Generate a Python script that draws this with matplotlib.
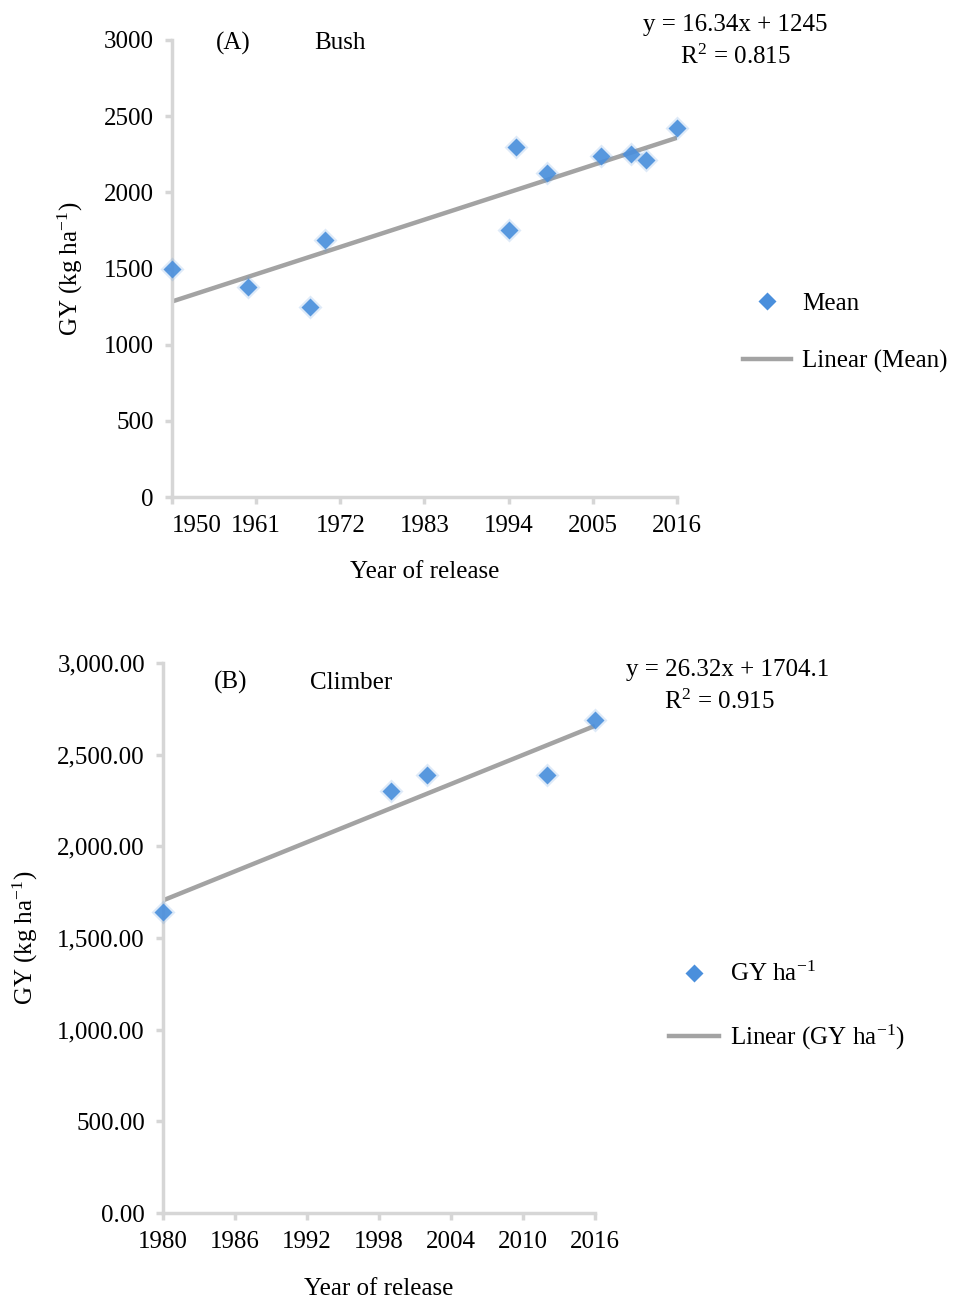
import numpy as np
import matplotlib
matplotlib.use("Agg")
import matplotlib.pyplot as plt
from matplotlib.ticker import FuncFormatter
from matplotlib.lines import Line2D

plt.rcParams['font.family'] = ['Liberation Serif', 'DejaVu Serif']
plt.rcParams['mathtext.fontset'] = 'stix'
plt.rcParams['font.size'] = 18

# (A) bush varieties
bush_year = [1950, 1960, 1968, 1970, 1994, 1995, 1999, 2006, 2010, 2012, 2016]
bush_gy = [1500, 1380, 1250, 1690, 1750, 2300, 2130, 2240, 2250, 2210, 2420]
bush_xticks = [1950, 1961, 1972, 1983, 1994, 2005, 2016]
bush_yticks = [0, 500, 1000, 1500, 2000, 2500, 3000]

# (B) climber varieties
climb_year = [1980, 1999, 2002, 2012, 2016]
climb_gy = [1640, 2300, 2390, 2390, 2690]
climb_xticks = [1980, 1986, 1992, 1998, 2004, 2010, 2016]
climb_yticks = [0, 500, 1000, 1500, 2000, 2500, 3000]

BLUE = '#4a8fdc'
GREY_LINE = '#a3a3a3'
SPINE = '#d6d6d6'
SUP = '$^{\\mathregular{-1}}$'


def style_axis(ax):
    for s in ('top', 'right'):
        ax.spines[s].set_visible(False)
    for s in ('left', 'bottom'):
        ax.spines[s].set_color(SPINE)
        ax.spines[s].set_linewidth(2.5)
    ax.tick_params(direction='out', length=5, width=2.5, color=SPINE,
                   labelsize=18, pad=8)


def draw_panel(ax, years, gy, xticks, yticks):
    coef = np.polyfit(years, gy, 1)
    xs = np.array([xticks[0], xticks[-1]])
    ax.plot(xs, np.polyval(coef, xs), color=GREY_LINE, lw=3.2,
            solid_capstyle='butt', zorder=2)
    ax.plot(years, gy, ls='none', marker='D', ms=12, color=BLUE, alpha=0.18,
            mec='none', clip_on=False, zorder=3)
    ax.plot(years, gy, ls='none', marker='D', ms=9, color=BLUE, alpha=0.9,
            mec='none', clip_on=False, zorder=4)
    ax.set_xlim(xticks[0], xticks[-1])
    ax.set_ylim(yticks[0], yticks[-1])
    ax.set_xticks(xticks)
    ax.set_yticks(yticks)
    style_axis(ax)


fig = plt.figure(figsize=(9.55, 13.06), dpi=100)

ax1 = fig.add_axes([0.180, 0.6194, 0.529, 0.350])
draw_panel(ax1, bush_year, bush_gy, bush_xticks, bush_yticks)
ax1.get_xticklabels()[0].set_ha('left')
ax1.set_xlabel('Year of release', fontsize=18)
ax1.xaxis.set_label_coords(0.5, -0.14)
ax1.set_ylabel('GY (kg ha' + SUP + ')', fontsize=18)
ax1.yaxis.set_label_coords(-0.172, 0.5)
ax1.text(0.121, 0.993, '(A)', transform=ax1.transAxes, ha='center', va='center')
ax1.text(0.333, 0.993, 'Bush', transform=ax1.transAxes, ha='center', va='center')
ax1.text(1.115, 1.033, 'y = 16.34x + 1245', transform=ax1.transAxes,
         ha='center', va='center')
ax1.text(1.115, 0.963, 'R$^{\\mathregular{2}}$ = 0.815', transform=ax1.transAxes,
         ha='center', va='center')

h_pt = Line2D([], [], ls='none', marker='D', ms=9, color=BLUE, mec='none')
h_ln = Line2D([], [], color=GREY_LINE, lw=3.2)
ax1.legend([h_pt, h_ln], ['Mean', 'Linear (Mean)'], loc='center left',
           bbox_to_anchor=(0.765, 0.745), bbox_transform=fig.transFigure,
           frameon=False, borderpad=0, handlelength=1.9, handletextpad=0.45,
           labelspacing=1.4, fontsize=18)

ax2 = fig.add_axes([0.1707, 0.0712, 0.4523, 0.4211])
draw_panel(ax2, climb_year, climb_gy, climb_xticks, climb_yticks)
ax2.yaxis.set_major_formatter(FuncFormatter(lambda v, p: '{:,.2f}'.format(v)))
ax2.set_xlabel('Year of release', fontsize=18)
ax2.xaxis.set_label_coords(0.5, -0.118)
ax2.set_ylabel('GY (kg ha' + SUP + ')', fontsize=18)
ax2.yaxis.set_label_coords(-0.285, 0.5)
ax2.text(0.157, 0.964, '(B)', transform=ax2.transAxes, ha='center', va='center')
ax2.text(0.435, 0.964, 'Climber', transform=ax2.transAxes, ha='center', va='center')
ax2.text(1.308, 0.987, 'y = 26.32x + 1704.1', transform=ax2.transAxes,
         ha='center', va='center')
ax2.text(1.289, 0.929, 'R$^{\\mathregular{2}}$ = 0.915', transform=ax2.transAxes,
         ha='center', va='center')

ax2.legend([h_pt, h_ln], ['GY ha' + SUP, 'Linear (GY ha' + SUP + ')'],
           loc='center left', bbox_to_anchor=(0.687, 0.229),
           bbox_transform=fig.transFigure, frameon=False, borderpad=0,
           handlelength=2.0, handletextpad=0.45, labelspacing=1.45, fontsize=18)

fig.savefig('out.png', dpi=100)
